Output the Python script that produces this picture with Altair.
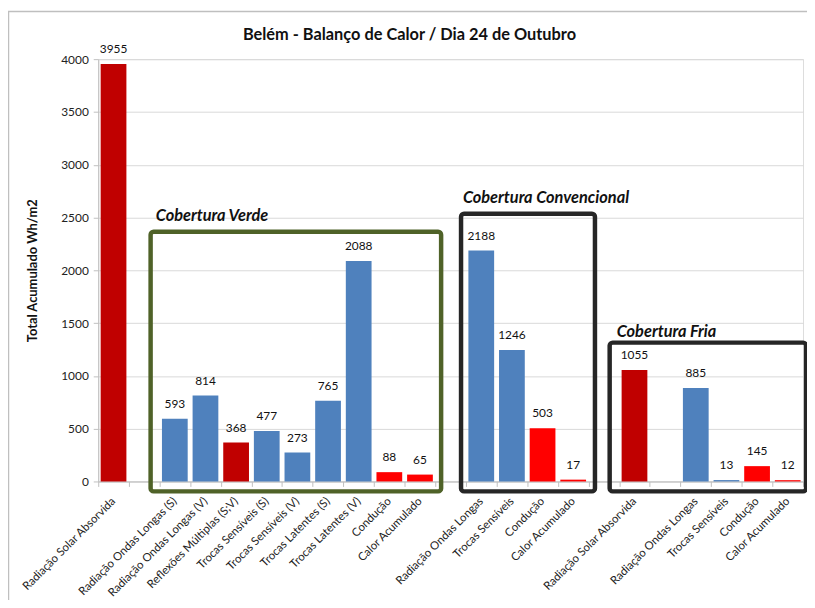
import altair as alt
import pandas as pd

# ---- data ----
categories = [
    "Radiação Solar Absorvida", "",
    "Radiação Ondas Longas (S)", "Radiação Ondas Longas (V)", "Reflexões Múltiplas (S;V)",
    "Trocas Sensíveis (S)", "Trocas Sensíveis (V)", "Trocas Latentes (S)", "Trocas Latentes (V)",
    "Condução", "Calor Acumulado", "",
    "Radiação Ondas Longas", "Trocas Sensíveis", "Condução", "Calor Acumulado", "",
    "Radiação Solar Absorvida", "", "Radiação Ondas Longas", "Trocas Sensíveis", "Condução", "Calor Acumulado",
]
values = [3955, None, 593, 814, 368, 477, 273, 765, 2088, 88, 65, None,
          2188, 1246, 503, 17, None, 1055, None, 885, 13, 145, 12]
kinds = ["solar", None, "onda", "onda", "solar", "onda", "onda", "onda", "onda", "cond", "cond", None,
         "onda", "onda", "cond", "cond", None, "solar", None, "onda", "onda", "cond", "cond"]
kind_colors = {"solar": "#C00000", "onda": "#4F81BD", "cond": "#FF0000"}

group_names = ["Cobertura Verde", "Cobertura Convencional", "Cobertura Fria"]
group_colors = ["#4F6228", "#262626", "#262626"]
# annotation frames in slot units (x) and value units (y)
group_x0 = [1.71, 11.84, 16.69]
group_x1 = [11.19, 16.21, 23.1]
group_top = [2366, 2535, 1315]
group_bottom = [-94, -94, -94]
label_x = [1.88, 11.9, 16.92]
label_y = [2470, 2640, 1370]

title_text = "Belém - Balanço de Calor / Dia 24 de Outubro"
y_title = "Total Acumulado Wh/m2"

# ---- tables ----
keys = [f"{i:02d}{c}" for i, c in enumerate(categories)]
bars = pd.DataFrame({
    "key": keys, "value": values,
    "color": [kind_colors.get(k) if k else None for k in kinds],
}).dropna(subset=["value"])
boxes = pd.DataFrame({
    "name": group_names, "color": group_colors,
    "x0": group_x0, "x1": group_x1, "top": group_top, "bottom": group_bottom,
    "lx": label_x, "ly": label_y,
})
titles = pd.DataFrame({"t": [title_text]})

FONT = "Lato"
yscale = alt.Scale(domain=[0, 4000], nice=False, zero=True)
xscale = alt.Scale(domain=keys, paddingInner=0, paddingOuter=0)

x_enc = alt.X("key:N", scale=xscale, sort=keys, title=None,
              axis=alt.Axis(labelExpr="isString(datum.value) ? substring(datum.value, 2) : ''",
                            labelAngle=-45,
                            labelAlign="right", labelBaseline="middle", labelPadding=13,
                            labelFontSize=11.5, labelColor="#222", labelFont=FONT,
                            tickBand="extent", tickSize=5, tickColor="#BFBFBF",
                            domainColor="#BFBFBF", grid=False, labelOverlap=False))
y_enc = alt.Y("value:Q", scale=yscale, title=y_title,
              axis=alt.Axis(values=list(range(0, 4001, 500)), format="d", grid=True,
                            gridColor="#D9D9D9",
                            domainColor="#BFBFBF", tickColor="#BFBFBF", tickSize=5,
                            labelFontSize=12, labelColor="#222", labelPadding=5, labelFont=FONT,
                            titleFont=FONT, titleFontSize=13, titleFontWeight="bold",
                            titleColor="#111", titlePadding=21))

bar_layer = alt.Chart(bars).mark_bar(width={"band": 0.84}).encode(
    x=x_enc, y=y_enc, color=alt.Color("color:N", scale=None))
val_layer = alt.Chart(bars).mark_text(baseline="bottom", dy=-8, fontSize=12, font=FONT,
                                      color="#111").encode(
    x=alt.X("key:N", scale=xscale, sort=keys), y=alt.Y("value:Q", scale=yscale),
    text=alt.Text("value:Q", format="d"))
main = alt.layer(bar_layer, val_layer)

bx = alt.Scale(domain=[0, 23], nice=False, zero=False)
box_layer = alt.Chart(boxes).mark_rect(fillOpacity=0, strokeWidth=4.5, cornerRadius=3).encode(
    x=alt.X("x0:Q", scale=bx, axis=None), x2="x1:Q",
    y=alt.Y("top:Q", scale=yscale), y2="bottom:Q",
    stroke=alt.Color("color:N", scale=None))
box_text = alt.Chart(boxes).mark_text(align="left", baseline="alphabetic", font=FONT,
                                      fontSize=16.5, fontWeight="bold", fontStyle="italic",
                                      color="#111").encode(
    x=alt.X("lx:Q", scale=bx, axis=None), y=alt.Y("ly:Q", scale=yscale), text="name:N")
frame = alt.Chart(boxes.head(1)).mark_rect(fillOpacity=0, stroke="#BFBFBF", strokeWidth=1.5).encode(
    x=alt.value(-90.5), x2=alt.value(740), y=alt.value(-48), y2=alt.value(600))
title_mark = alt.Chart(titles).mark_text(align="center", baseline="alphabetic", font=FONT,
                                         fontSize=16.5, fontWeight="bold", color="#111").encode(
    x=alt.value(314), y=alt.value(-19), text="t:N")
ann = alt.layer(frame, box_layer, box_text, title_mark)

chart = alt.layer(main, ann).resolve_scale(x="independent").properties(
    width=711, height=426,
    padding={"left": 91, "top": 49, "right": 4, "bottom": 117},
    autosize=alt.AutoSizeParams(type="none"),
).configure_view(stroke=None).configure(font=FONT)

chart.save("out.html", embed_options={"renderer": "svg", "actions": False})
